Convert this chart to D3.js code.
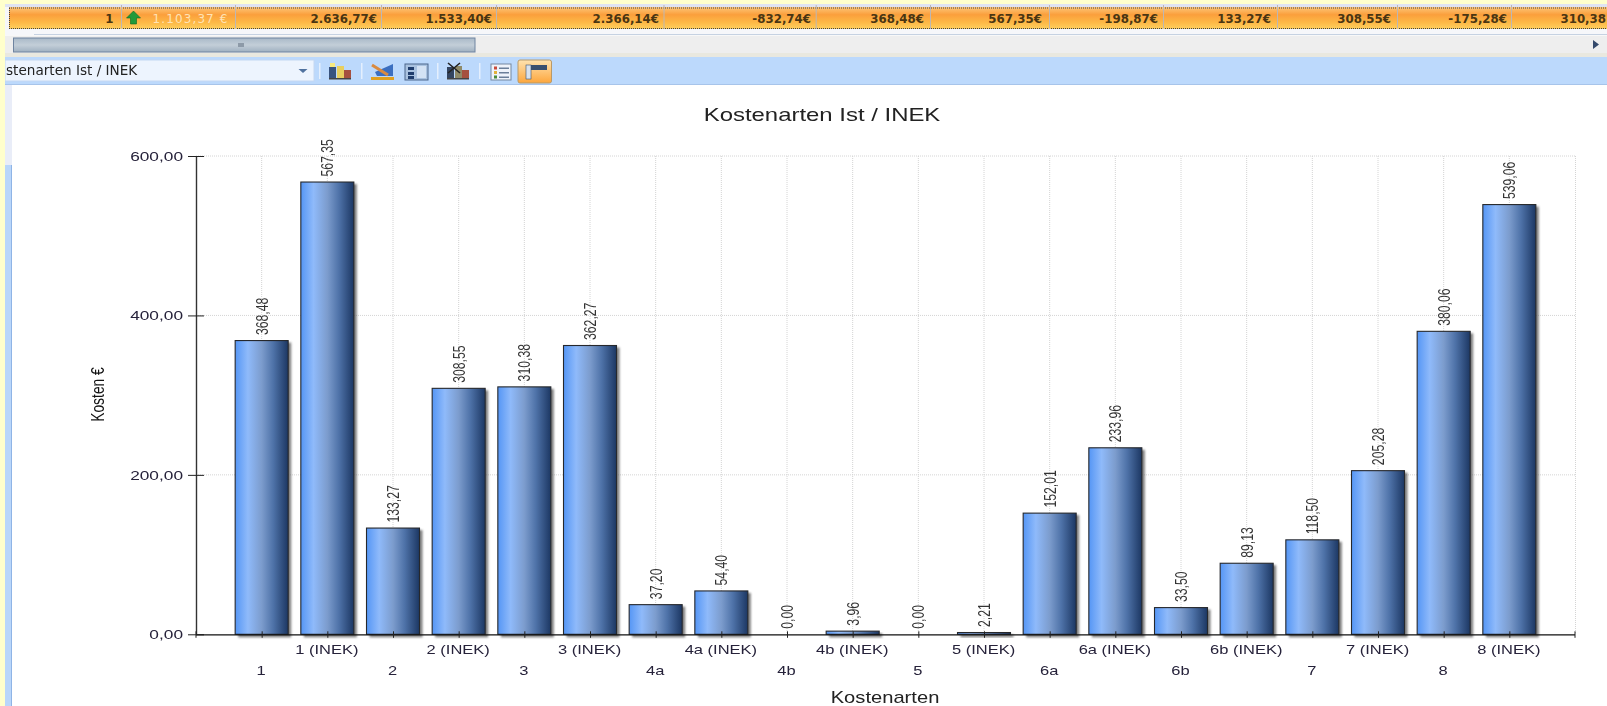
<!DOCTYPE html>
<html><head><meta charset="utf-8">
<script src="https://cdnjs.cloudflare.com/ajax/libs/d3/7.8.5/d3.min.js"></script>
<style>html,body{margin:0;padding:0;background:#fff;overflow:hidden}svg{display:block;filter:blur(.4px)}text{font-family:"Liberation Sans",Arial,sans-serif}</style>
</head><body><svg id="c" width="1607" height="706"></svg>
<script>
const categories=["1","1 (INEK)","2","2 (INEK)","3","3 (INEK)","4a","4a (INEK)","4b","4b (INEK)","5","5 (INEK)","6a","6a (INEK)","6b","6b (INEK)","7","7 (INEK)","8","8 (INEK)"];
const costs=[368.48,567.35,133.27,308.55,310.38,362.27,37.20,54.40,0,3.96,0,2.21,152.01,233.96,33.50,89.13,118.50,205.28,380.06,539.06];
const yTicks=[0,200,400,600];
const chartTitle="Kostenarten Ist / INEK", xTitle="Kostenarten", yTitle="Kosten €";
const comboText="stenarten Ist / INEK";
const rowLabels=["1","1.103,37 €","2.636,77€","1.533,40€","2.366,14€","-832,74€","368,48€","567,35€","-198,87€","133,27€","308,55€","-175,28€","310,38"];
const rowRight=[113.5,228.5,377,492,659,811,924,1042,1158,1271,1391,1507,1606];
const rowDividers=[121,235,381,496,663.5,815.7,930,1049,1163,1277,1397,1511];

const svg=d3.select("#c");
const defs=svg.append("defs");
const lg=(id,stops,h)=>{const g=defs.append("linearGradient").attr("id",id).attr("x1",0).attr("y1",0).attr("x2",h?1:0).attr("y2",h?0:1);
  stops.forEach(s=>g.append("stop").attr("offset",s[0]).attr("stop-color",s[1]));};
lg("bar",[[0,"#5596f5"],[.24,"#8fbafa"],[.5,"#7c9ccd"],[.72,"#4e72a8"],[1,"#1c3763"]],true);
lg("row",[[0,"#fdc77a"],[.35,"#fb9f3c"],[.7,"#fdb846"],[1,"#fecf5e"]],false);
lg("tool",[[0,"#ffe3b0"],[1,"#fda63c"]],false);
lg("thumb",[[0,"#a9b9c8"],[.5,"#c3ced8"],[1,"#9fb0c0"]],false);
defs.append("filter").attr("id","sh").attr("x","-20%").attr("y","-20%").attr("width","140%").attr("height","140%")
  .append("feGaussianBlur").attr("stdDeviation",1.1);
const R=(g,x,y,w,h,f)=>g.append("rect").attr("x",x).attr("y",y).attr("width",w).attr("height",h).attr("fill",f);

// window chrome
const ui=svg.append("g");
R(ui,0,0,1607,4,"#ffffcc");
R(ui,0,4,1607,54,"#f6f7fa");
R(ui,5,4,1602,3,"#dfe3f2");
R(ui,9,7,1598,22,"url(#row)");
ui.append("line").attr("x1",9).attr("x2",1607).attr("y1",8).attr("y2",8).attr("stroke","#444").attr("stroke-dasharray","1 1");
ui.append("line").attr("x1",9).attr("x2",1607).attr("y1",28.5).attr("y2",28.5).attr("stroke","#444").attr("stroke-dasharray","1 1");
ui.append("line").attr("x1",9.5).attr("x2",9.5).attr("y1",8).attr("y2",29).attr("stroke","#444").attr("stroke-dasharray","1 1");
rowDividers.forEach(x=>R(ui,x,5,1,24,"#bdb7b4"));
rowLabels.forEach((t,i)=>ui.append("text").attr("text-anchor","end").attr("transform",`translate(${rowRight[i]},22.5)`)
  .attr("fill",i==1?"#ffe3b5":"#4a3512").style("font-family","DejaVu Sans").style("font-weight",i==1?400:700)
  .style("font-size",i==1?"12px":"11.8px").style("letter-spacing",i==1?"1.1px":"0").text(t));
ui.append("path").attr("d","M133.5 11l7 7h-4v6h-6v-6h-4z").attr("fill","#1f9a3a").attr("stroke","#0d6a22").attr("stroke-width",.6);
R(ui,34,34,1573,1,"#c6d2e2");
R(ui,0,35,1607,18,"#eeeeee");
R(ui,0,35,1607,1,"#f8f8f8");
R(ui,13.5,38,461.5,14,"url(#thumb)").attr("stroke","#6f84a0");
R(ui,238,43,6,4,"#8d9aa8");
ui.append("path").attr("d","M1593 40l6 4.5-6 4.5z").attr("fill","#34496b");
R(ui,0,53,1607,4,"#e9e8df");
R(ui,0,57,1607,28,"#bcd9fc");
R(ui,0,84,1607,1,"#a7c4ea");
R(ui,5,60,309,21,"#edf4fe").attr("stroke","#c4d8f2");
ui.append("path").attr("d","M298.5 69h9l-4.5 4z").attr("fill","#50729f");
ui.append("text").attr("x",6).attr("y",75).attr("fill","#222").style("font-family","DejaVu Sans").style("font-size","13.6px").text(comboText);
[319,361,437,479].forEach(x=>R(ui,x,63,1.5,16,"#e4effd"));
const bars3=(x,c)=>{R(ui,x,67,7,12,c[0]);R(ui,x+8,66,7,13,c[1]);R(ui,x+15,70,7,9,c[2]);R(ui,x,78,22,1.5,"#444");};
bars3(329,["#38537f","#e8cf5f","#a5503f"]);
R(ui,330,63,5,4,"#f7ea80");
ui.append("path").attr("d","M375 72l18-8v12h-16z").attr("fill","#3b6fc0");
ui.append("path").attr("d","M372 65l16 10").attr("stroke","#d98a40").attr("stroke-width",3);
R(ui,371,77,23,3,"#e0a020");
R(ui,405,64,23,16,"#a9c2e0").attr("stroke","#4a668c");
R(ui,408,67,6,3,"#1f3d6d");R(ui,408,72,6,3,"#1f3d6d");R(ui,408,76,6,3,"#1f3d6d");R(ui,417,66,9,12,"#d3e2f4");
bars3(447,["#33445f","#8f8a68","#a5503f"]);
ui.append("path").attr("d","M448 63l12 10M460 63l-12 10").attr("stroke","#222").attr("stroke-width",1.6);
R(ui,491,64,20,16,"#eef3fa").attr("stroke","#75889f");
[66.5,71,75.5].forEach((y,i)=>{R(ui,494,y,3,3,["#c94a3a","#e2b13a","#4a8c3a"][i]);R(ui,499,y+1,10,1.5,"#6b7f99");});
R(ui,518,60,33.5,23,"url(#tool)").attr("stroke","#b99a68").attr("rx",2);
R(ui,526,65,21,5,"#39506f");R(ui,526,65,5,14,"#d8e2ee").attr("stroke","#39506f").attr("stroke-width",.6);

// side strips
R(ui,0,85,12,621,"#e9edf8");
R(ui,5,165,7,541,"#b9d6fa");
R(ui,11,165,1,541,"#8fb4e6");
R(ui,0,0,5,706,"#ffffcc");

// chart
const x=d3.scalePoint().domain(categories).range([196,1575]).padding(1);
const y=d3.scaleLinear().domain([0,600]).range([634.3,156]);
const barW=53;
const gridColor="#d4d4d4";
const grid=svg.append("g");
grid.selectAll("line.v").data(categories).join("line").attr("class","v").attr("x1",d=>x(d)).attr("x2",d=>x(d)).attr("y1",y(600)).attr("y2",y(0));
grid.append("line").attr("x1",1575.5).attr("x2",1575.5).attr("y1",y(600)).attr("y2",y(0));
grid.selectAll("line.h").data(yTicks.slice(1)).join("line").attr("class","h").attr("x1",196).attr("x2",1575).attr("y1",d=>y(d)).attr("y2",d=>y(d));
grid.selectAll("line").attr("stroke",gridColor).attr("stroke-dasharray","1 1");

const data=categories.map((c,i)=>({c,v:costs[i]}));
const shown=data.filter(d=>d.v>0);
svg.append("g").selectAll("rect").data(shown).join("rect").attr("filter","url(#sh)").attr("fill","#555").attr("opacity",.75)
  .attr("x",d=>x(d.c)-barW/2+3).attr("y",d=>y(d.v)+2).attr("width",barW).attr("height",d=>y(0)-y(d.v)+1);
svg.append("g").selectAll("rect").data(shown).join("rect").attr("fill","url(#bar)").attr("stroke","#26282c").attr("stroke-width",1.1)
  .attr("x",d=>x(d.c)-barW/2).attr("y",d=>y(d.v)).attr("width",barW).attr("height",d=>y(0)-y(d.v));

const fmt=d3.formatLocale({decimal:",",thousands:".",grouping:[3],currency:["","€"]}).format(".2f");
svg.append("g").selectAll("text").data(data).join("text")
  .attr("transform",d=>`translate(${x(d.c)},${y(d.v)-5.5}) rotate(-90) scale(.72,1)`)
  .attr("dy",".35em").attr("fill","#333").style("font-size","17px").text(d=>fmt(d.v));

const ax=svg.append("g").attr("transform",`translate(196,0)`).call(d3.axisLeft(y).tickValues(yTicks).tickSize(8).tickFormat(fmt));
ax.selectAll(".tick line").attr("x2",8).attr("x1",-8).attr("stroke","#222");
ax.select(".domain").attr("d",`M0.5,${y(600)}V${y(0)}`).attr("stroke","#333").attr("stroke-width",1.4);
ax.selectAll(".tick text").attr("x",null).attr("dy",".35em").attr("text-anchor","end")
  .attr("transform","translate(-13,0) scale(1.33,1)").attr("fill","#26223a").style("font-size","13px");

const bx=svg.append("g").attr("transform",`translate(0,${y(0)})`).call(d3.axisBottom(x).tickSize(3));
bx.selectAll(".tick line").attr("y1",-3).attr("y2",3.5).attr("stroke","#222");
bx.select(".domain").attr("d","M196,0.5H1575").attr("stroke","#111").attr("stroke-width",1.2);
bx.selectAll(".tick text").attr("y",null).attr("dy",".35em").attr("text-anchor","middle")
  .attr("transform",(d,i)=>`translate(-1,${i%2?15:36}) scale(1.27,1)`).attr("fill","#26223a").style("font-size","13px");
[196,1575].forEach(v=>svg.append("line").attr("x1",v).attr("x2",v).attr("y1",y(0)-3).attr("y2",y(0)+3.5).attr("stroke","#222"));

svg.append("text").attr("transform","translate(822,120.5) scale(1.33,1)").attr("text-anchor","middle").attr("fill","#222").style("font-size","18px").text(chartTitle);
svg.append("text").attr("transform","translate(885,702.5) scale(1.26,1)").attr("text-anchor","middle").attr("fill","#222").style("font-size","16px").text(xTitle);
svg.append("text").attr("transform","translate(104,394.5) rotate(-90) scale(.77,1)").attr("text-anchor","middle").attr("fill","#111").style("font-size","18px").text(yTitle);
</script></body></html>
